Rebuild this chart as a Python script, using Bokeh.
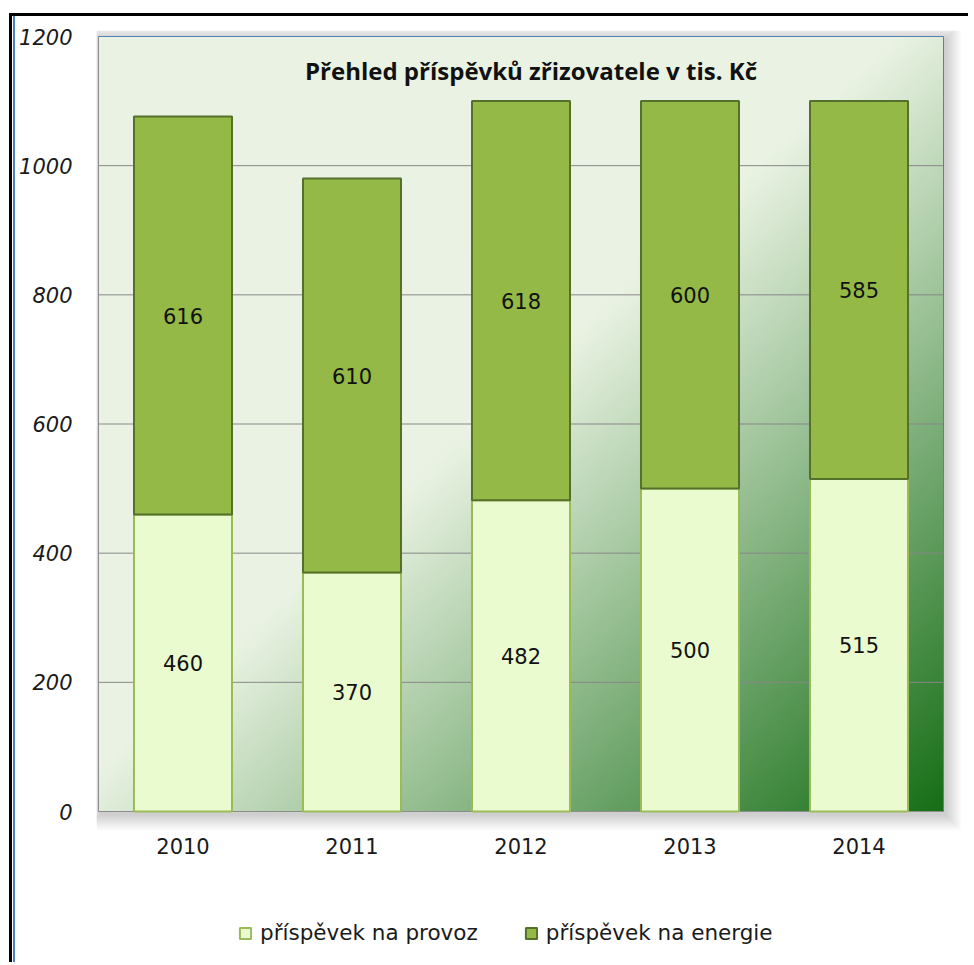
import numpy as np
from bokeh.plotting import figure
from bokeh.models import (Range1d, FixedTicker, Legend, LegendItem,
                          ColumnDataSource, LabelSet, Label)
from bokeh.core.properties import value
from bokeh.embed import file_html
from bokeh.resources import INLINE

# ---------------- data ----------------
years = ["2010", "2011", "2012", "2013", "2014"]
provoz = [460, 370, 482, 500, 515]
energie = [616, 610, 618, 600, 585]
y_ticks = [0, 200, 400, 600, 800, 1000, 1200]
series_names = ["příspěvek na provoz", "příspěvek na energie"]
title_text = "Přehled příspěvků zřizovatele v tis. Kč"

# ---------------- layout (absolute window pixels) ----------------
W, H = 974, 965
OX, OY = 15, 16                       # canvas offset caused by the outer frame lines
PA_L, PA_R, PA_T, PA_B = 98, 943, 36, 811   # visible plot area
FR_L, FR_T, FR_R, FR_B = 96, 30, W, H       # bokeh frame (larger, holds legend & x labels)
NX, YMAX = len(years), y_ticks[-1]
ppx = (PA_R - PA_L) / NX
ppy = (PA_B - PA_T) / YMAX
x_rng = Range1d(-(PA_L - FR_L) / ppx, NX + (FR_R - PA_R) / ppx)
y_rng = Range1d(-(FR_B - PA_B) / ppy, YMAX + (PA_T - FR_T) / ppy)
FONT = "DejaVu Sans"

p = figure(width=W - OX, height=H - OY, output_backend="svg", toolbar_location=None,
           x_range=x_rng, y_range=y_rng, x_axis_location=None,
           min_border_left=FR_L - OX, min_border_right=0,
           min_border_top=FR_T - OY, min_border_bottom=0,
           background_fill_color="white", border_fill_color="white",
           styles={"margin-left": "9px", "margin-top": "13px",
                   "border-left": "3px solid black", "border-top": "3px solid black",
                   "padding-left": "3px",
                   "background": "linear-gradient(90deg, #ffffff 0px, #ffffff 1px, #4f81bd 1px, #4f81bd 3px, #ffffff 3px)"})
p.outline_line_color = None
p.grid.visible = False

# soft drop shadow of plot area (drawn below the gradient)
ux, uy = 1 / ppx, 1 / ppy
NS = 16
for d in range(1, NS + 1):
    p.quad(left=-d * ux + 2 * ux, right=NX + d * ux + 2 * ux,
           bottom=-d * uy - 3 * uy, top=YMAX + d * uy - 3 * uy,
           fill_color="black", fill_alpha=0.013, line_color=None, level="image")

# gradient background of plot area
GH, GW = 390, 424
rows = (np.arange(GH) + 0.5) / GH
cols = (np.arange(GW) + 0.5) / GW
ny = 1 - rows[:, None]
nx = cols[None, :]
s = nx + ny
t = np.clip((s - 0.95) / 1.05, 0, 1)
L = np.array([234, 243, 227], dtype=float)
D = np.array([22, 110, 22], dtype=float)
rgb = L[None, None, :] + (D - L)[None, None, :] * t[:, :, None]
img = np.empty((GH, GW), dtype=np.uint32)
view = img.view(dtype=np.uint8).reshape((GH, GW, 4))
view[:, :, 0:3] = rgb.astype(np.uint8)
view[:, :, 3] = 255
p.image_rgba(image=[img], x=0, y=0, dw=NX, dh=YMAX, level="image")

# grid lines and plot-area border
p.segment(x0=0, x1=NX, y0=y_ticks[1:-1], y1=y_ticks[1:-1],
          line_color="#878787", line_width=1, level="underlay")
p.segment(x0=[0, 0], x1=[0, NX], y0=[0, 0], y1=[YMAX, 0],
          line_color="#8c8c8c", line_width=1, level="underlay")
p.segment(x0=[0, NX], x1=[NX, NX], y0=[YMAX, 0], y1=[YMAX, YMAX],
          line_color="#4f81bd", line_width=1, level="underlay")

# y axis
yax = p.yaxis[0]
yax.ticker = FixedTicker(ticks=y_ticks)
yax.axis_line_color = None
yax.major_tick_line_color = None
yax.minor_tick_line_color = None
yax.major_tick_out = 0
yax.major_tick_in = 0
yax.major_label_text_font = FONT
yax.major_label_text_font_size = "21px"
yax.major_label_text_font_style = "italic"
yax.major_label_text_color = "#1a1a1a"
yax.major_label_standoff = FR_L - 72

# bars
xs = [i + 0.5 for i in range(NX)]
src = ColumnDataSource(dict(
    x=xs, provoz=provoz, energie=energie, year=years,
    base=[0] * NX,
    y_prov=[v / 2 for v in provoz],
    y_en=[a + b / 2 for a, b in zip(provoz, energie)],
    t_prov=[str(v) for v in provoz],
    t_en=[str(v) for v in energie],
))
rs = p.vbar_stack(["provoz", "energie"], x="x", width=0.58, source=src,
                  fill_color=["#ebfbd0", "#94b947"],
                  line_color=["#9bbb59", "#55702a"], line_width=2)

for ycol, tcol in (("y_prov", "t_prov"), ("y_en", "t_en")):
    p.add_layout(LabelSet(x="x", y=ycol, text=tcol, source=src,
                          text_align="center", text_baseline="middle",
                          text_font=value(FONT), text_font_size="21px",
                          text_color="#111111"))

# category labels under the plot area
p.add_layout(LabelSet(x="x", y="base", text="year", source=src, y_offset=-34,
                      text_align="center", text_baseline="middle",
                      text_font=value(FONT), text_font_size="21px",
                      text_color="#1a1a1a"))

# title inside plot
p.add_layout(Label(x=NX / 2, y=YMAX, x_offset=10, y_offset=-34,
                   text=title_text, text_align="center", text_baseline="middle",
                   text_font="Open Sans", text_font_style="bold", text_font_size="24px",
                   text_color="#111111"))

# legend
legend = Legend(items=[LegendItem(label=series_names[0], renderers=[rs[0]]),
                       LegendItem(label=series_names[1], renderers=[rs[1]])],
                location=(142, 20), orientation="horizontal",
                glyph_width=14, glyph_height=14, label_standoff=8, spacing=46,
                padding=0, margin=0, border_line_color=None, background_fill_alpha=0,
                label_text_font=FONT, label_text_font_size="21.5px",
                label_text_color="#1a1a1a")
p.add_layout(legend)

open("out.html", "w").write(file_html(p, INLINE))
